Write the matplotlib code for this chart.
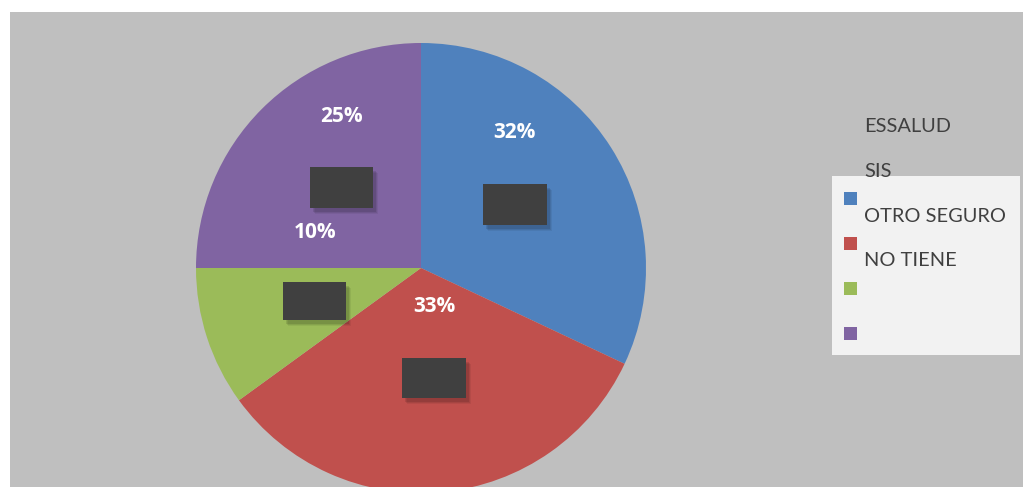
import matplotlib.pyplot as plt
from matplotlib.patches import Rectangle

# datos del gráfico
categorias = ['ESSALUD', 'SIS', 'OTRO SEGURO', 'NO TIENE']
porcentajes = [32, 33, 10, 25]
colores = ['#4F81BD', '#C0504D', '#9BBB59', '#8064A2']

plt.rcParams['hatch.color'] = '#4c4c4c'
plt.rcParams['hatch.linewidth'] = 1.0

W, H = 1023, 487
fig = plt.figure(figsize=(W / 100, H / 100), dpi=100)
fig.patch.set_facecolor('white')
ax = fig.add_axes([0, 0, 1, 1])

# fondo gris del área del gráfico
ax.add_patch(Rectangle((10, 0), W - 10, H - 12, facecolor='#BFBFBF', edgecolor='none', zorder=0))

cx, cy, r = 421, H - 268, 225
wedges, _ = ax.pie(porcentajes, colors=colores, startangle=90, counterclock=False,
                   center=(cx, cy), radius=r, frame=True,
                   wedgeprops=dict(edgecolor='none', zorder=2))
ax.set_xlim(0, W)
ax.set_ylim(0, H)
ax.set_aspect('equal')
ax.axis('off')

# etiquetas de porcentaje (posición a mano)
pos_etq = [(514, 132), (434, 307), (315, 232), (341, 117)]
for v, (x, y) in zip(porcentajes, pos_etq):
    ax.text(x, H - y, f'{v}%', color='white', fontsize=15, fontweight='bold',
            ha='center', va='center', family='Open Sans', zorder=5)

# cajas oscuras sobre cada sector
cajas = [(483, 184, 64, 41), (402, 358, 64, 40), (283, 282, 63, 38), (310, 167, 63, 41)]
for x, y, w, h in cajas:
    for k, a in [(6, 0.06), (5, 0.08), (4, 0.1)]:
        ax.add_patch(Rectangle((x + k - 1, H - y - h - k), w, h, facecolor='black', alpha=a,
                               edgecolor='none', zorder=3))
    ax.add_patch(Rectangle((x, H - y - h), w, h, facecolor='#404040', edgecolor='none',
                           hatch='..', zorder=4))

# leyenda
ax.add_patch(Rectangle((832, H - 355), 188, 179, facecolor='#F2F2F2', edgecolor='none', zorder=1))
for i, c in enumerate(colores):
    ax.add_patch(Rectangle((844, H - 205 - 45 * i), 13, 13, facecolor=c, edgecolor='none', zorder=2))
for i, nombre in enumerate(categorias):
    ax.text(864, H - 127 - 44.5 * i, nombre, color='#404040', fontsize=14.4,
            ha='left', va='center', family='Lato', zorder=2)

fig.savefig('out.png', dpi=100, facecolor=fig.get_facecolor())
